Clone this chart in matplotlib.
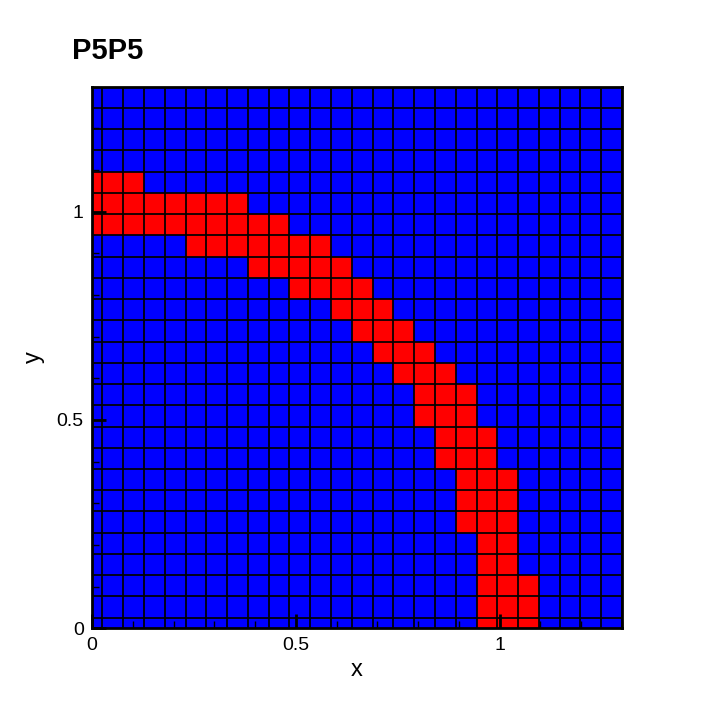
import numpy as np
import matplotlib
matplotlib.use("Agg")
import matplotlib.pyplot as plt
from matplotlib.colors import ListedColormap

plt.rcParams['font.family'] = ['Liberation Sans', 'DejaVu Sans']

# Mesh: 26 x 26 cells of size h, cell centres at k*h, domain clipped to [0, 1.3]
n_cells = 26
cell_size = 1.3 / 25.5

# Red cells per row (row index j from bottom): first and last red column index
red_rows = [0, 1, 2, 3, 4, 5, 6, 7, 8, 9, 10, 11, 12, 13, 14, 15, 16, 17, 18, 19, 20, 21]
red_start = [19, 19, 19, 19, 19, 18, 18, 18, 17, 17, 16, 16, 15, 14, 13, 12, 10, 8, 5, 0, 0, 0]
red_end = [21, 21, 21, 20, 20, 20, 20, 20, 19, 19, 18, 18, 17, 16, 15, 14, 13, 12, 11, 9, 7, 2]

title = "P5P5"
xlabel = "x"
ylabel = "y"
major_ticks = [0, 0.5, 1]
tick_labels = ["0", "0.5", "1"]

field = np.zeros((n_cells, n_cells))
for j, s, e in zip(red_rows, red_start, red_end):
    field[j, s:e + 1] = 1

edges = (np.arange(n_cells + 1) - 0.5) * cell_size

fig = plt.figure(figsize=(7.08, 7.08), dpi=100)
ax = fig.add_axes([92 / 708, 1 - 628.3 / 708, (622 - 92) / 708, (628.3 - 86.7) / 708])

cmap = ListedColormap(["#0000ff", "#ff0000"])
ax.pcolormesh(edges, edges, field, cmap=cmap, vmin=0, vmax=1,
              edgecolors="none", antialiased=False)
for e in edges:
    ax.axvline(e, color="black", linewidth=1.25, snap=True, zorder=1.5)
    ax.axhline(e, color="black", linewidth=1.25, snap=True, zorder=1.5)

ax.set_xlim(0, 1.3)
ax.set_ylim(0, 1.3)

ax.set_xticks(major_ticks)
ax.set_xticklabels(tick_labels)
ax.set_yticks(major_ticks)
ax.set_yticklabels(tick_labels)
ax.set_xticks(np.arange(0, 1.31, 0.1), minor=True)
ax.set_yticks(np.arange(0, 1.31, 0.1), minor=True)
ax.tick_params(which="major", direction="in", length=10, width=2, labelsize=14,
               pad=6, top=False, right=False)
ax.tick_params(which="minor", direction="in", length=5, width=1,
               top=False, right=False)

for sp in ax.spines.values():
    sp.set_linewidth(2)
    sp.set_zorder(5)

ax.set_xlabel(xlabel, fontsize=17, labelpad=4)
ax.set_ylabel(ylabel, fontsize=17, labelpad=8)

fig.text(72 / 708, 1 - 59 / 708, title, fontsize=21, fontweight="bold",
         ha="left", va="baseline")

fig.savefig("out.png", dpi=100)
